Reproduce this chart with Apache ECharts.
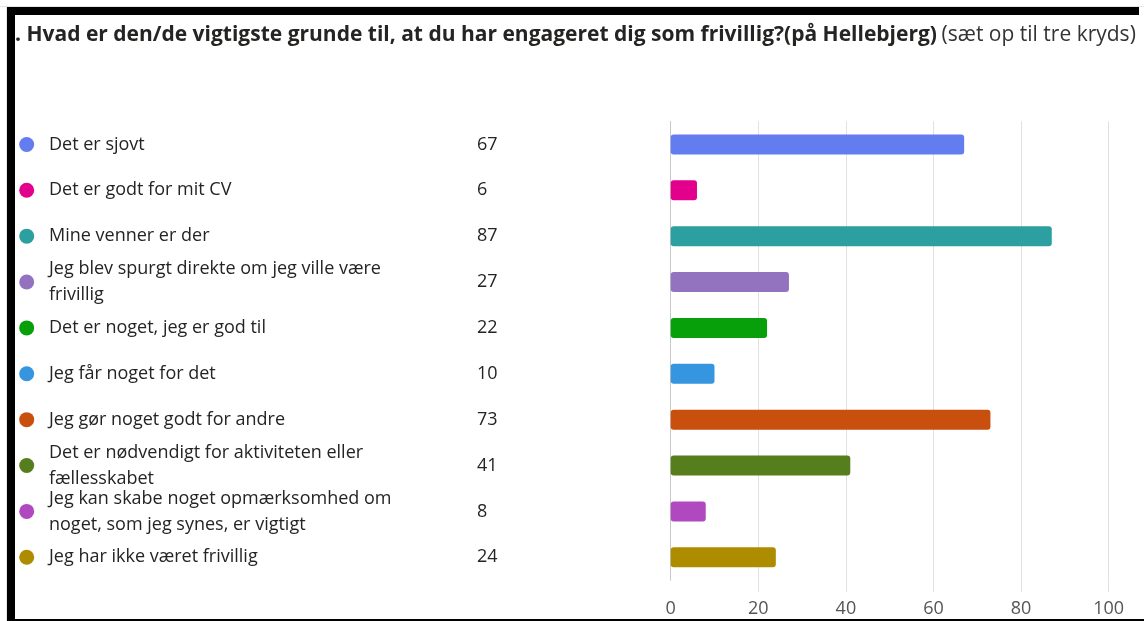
<!DOCTYPE html>
<html>
<head>
    <meta charset="utf-8">
    <title>Frivillig</title>
    <style>
        html, body { margin: 0; padding: 0; background: #fff; }
    </style>
</head>
<body>
    <div id="main" style="width: 1144px;height:621px;"></div>
    <script src="https://cdn.jsdelivr.net/npm/echarts@6/dist/echarts.min.js"></script>
    <script>
        var categories = [
            'Det er sjovt',
            'Det er godt for mit CV',
            'Mine venner er der',
            'Jeg blev spurgt direkte om jeg ville være\nfrivillig',
            'Det er noget, jeg er god til',
            'Jeg får noget for det',
            'Jeg gør noget godt for andre',
            'Det er nødvendigt for aktiviteten eller\nfællesskabet',
            'Jeg kan skabe noget opmærksomhed om\nnoget, som jeg synes, er vigtigt',
            'Jeg har ikke været frivillig'
        ];
        var values = [67, 6, 87, 27, 22, 10, 73, 41, 8, 24];
        var colors = ['#637CEF', '#E3008C', '#2C9FA0', '#9373C0', '#07A00A',
            '#3595DF', '#C94F0F', '#567E1D', '#B048BF', '#AE8C00'];
        var xTicks = [0, 20, 40, 60, 80, 100];

        var font = 'Open Sans';
        var axisX = 670.7;

        var dotRich = {};
        colors.forEach(function (c, i) {
            dotRich['c' + i] = { width: 15, height: 15, borderRadius: 7.5, backgroundColor: c };
        });

        var myChart = echarts.init(document.getElementById('main'));
        var option = {
            animation: false,
            backgroundColor: '#fff',
            textStyle: { fontFamily: font },
            title: {
                left: 10,
                top: 16,
                text: '{b|. Hvad er den/de vigtigste grunde til, at du har engageret dig som frivillig?(på Hellebjerg)} {n|(sæt op til tre kryds)}',
                textStyle: {
                    fontWeight: 'normal',
                    rich: {
                        b: { fontFamily: font, fontSize: 21, fontWeight: 'bold', color: '#252423', lineHeight: 28 },
                        n: { fontFamily: font, fontSize: 21, fontWeight: 'normal', color: '#333', lineHeight: 28 }
                    }
                }
            },
            grid: [{
                    left: axisX,
                    right: 35.3,
                    top: 121.5,
                    bottom: 40.8
                },
                {
                    left: axisX,
                    right: 35.3,
                    top: 580.2,
                    bottom: 29
                }
            ],
            xAxis: [{
                    type: 'value',
                    gridIndex: 0,
                    min: xTicks[0],
                    max: xTicks[xTicks.length - 1],
                    interval: 20,
                    axisLine: { show: false },
                    axisTick: { show: false },
                    axisLabel: { show: false },
                    splitLine: { lineStyle: { color: '#e1e1e1', width: 1 } }
                },
                {
                    type: 'value',
                    gridIndex: 1,
                    min: xTicks[0],
                    max: xTicks[xTicks.length - 1],
                    interval: 20,
                    axisLine: { show: false },
                    axisTick: { show: false },
                    axisLabel: { fontSize: 18, color: '#555', margin: 8, fontFamily: font },
                    splitLine: {
                        lineStyle: {
                            color: ['rgba(0,0,0,0)', '#e1e1e1', '#e1e1e1', '#e1e1e1', '#e1e1e1', '#e1e1e1'],
                            width: 1
                        }
                    }
                }
            ],
            yAxis: [{
                    type: 'category',
                    gridIndex: 0,
                    position: 'left',
                    data: categories,
                    inverse: true,
                    axisLine: { lineStyle: { color: '#c8c8c8', width: 1 } },
                    axisTick: { show: false },
                    axisLabel: {
                        align: 'left',
                        margin: axisX - 19.2,
                        formatter: function (v, i) { return '{c' + i + '|}'; },
                        rich: dotRich
                    }
                },
                {
                    type: 'category',
                    gridIndex: 0,
                    position: 'left',
                    data: categories,
                    inverse: true,
                    axisLine: { show: false },
                    axisTick: { show: false },
                    axisLabel: {
                        align: 'left',
                        margin: axisX - 49,
                        fontSize: 18,
                        lineHeight: 26,
                        color: '#252423',
                        fontFamily: font
                    }
                },
                {
                    type: 'category',
                    gridIndex: 0,
                    position: 'left',
                    data: categories,
                    inverse: true,
                    axisLine: { show: false },
                    axisTick: { show: false },
                    axisLabel: {
                        align: 'left',
                        margin: axisX - 477,
                        fontSize: 18,
                        color: '#252423',
                        fontFamily: font,
                        formatter: function (v, i) { return String(values[i]); }
                    }
                },
                {
                    type: 'value',
                    gridIndex: 1,
                    show: false
                }
            ],
            series: [{
                type: 'bar',
                xAxisIndex: 0,
                yAxisIndex: 0,
                barWidth: 20,
                data: values.map(function (v, i) {
                    return { value: v, itemStyle: { color: colors[i], borderRadius: 3 } };
                })
            }],
            graphic: [
                { type: 'rect', z: 100, shape: { x: 0, y: 6, width: 1144, height: 1 }, style: { fill: '#e6e6e6' } },
                { type: 'rect', z: 100, shape: { x: 6, y: 6, width: 1, height: 615 }, style: { fill: '#e6e6e6' } },
                { type: 'rect', z: 101, shape: { x: 7, y: 7, width: 1132, height: 8 }, style: { fill: '#000' } },
                { type: 'rect', z: 101, shape: { x: 7, y: 7, width: 8, height: 614 }, style: { fill: '#000' } },
                { type: 'rect', z: 101, shape: { x: 7, y: 619, width: 1137, height: 2 }, style: { fill: '#000' } }
            ]
        };
        myChart.setOption(option);
    </script>
</body>
</html>
